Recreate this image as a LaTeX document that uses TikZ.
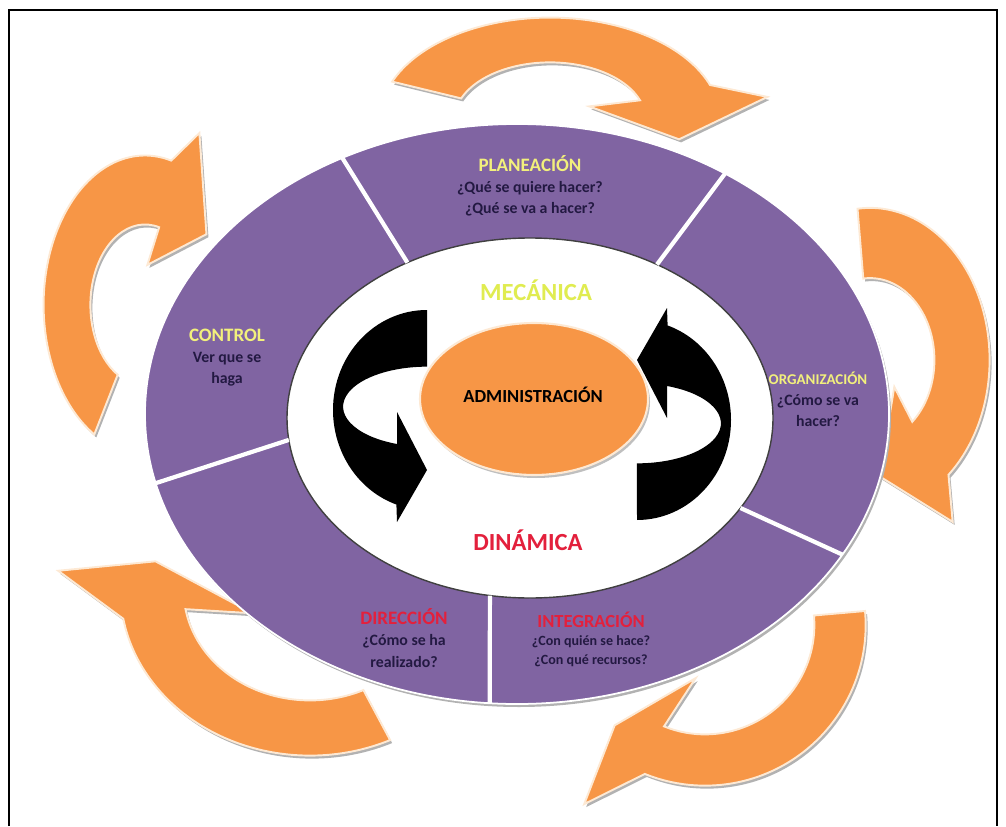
\documentclass[tikz,border=0pt]{standalone}
\usepackage{fontspec}
\setmainfont{Carlito}
\usetikzlibrary{calc}

\definecolor{ringpurple}{HTML}{8064A2}
\definecolor{arroworange}{HTML}{F79646}
\definecolor{arrowedge}{HTML}{FDE9D4}
\definecolor{darkink}{HTML}{231942}
\definecolor{headyellow}{HTML}{F2F07C}
\definecolor{headlime}{HTML}{E0EC50}
\definecolor{headred}{HTML}{E3203C}

% curved block arrow: #1 centre, #2/#3 radii, #4 tail angle, #5 head base angle,
% #6 tip angle, #7 half band width, #8 half head width, #9 head tilt
\newcommand{\roundarrow}[9]{%
  \pgfmathsetmacro\bandout{1+#7}\pgfmathsetmacro\bandin{1-#7}%
  \pgfmathsetmacro\headout{1+#8}\pgfmathsetmacro\headin{1-#8}%
  \pgfmathsetmacro\angout{#5-#9}\pgfmathsetmacro\angin{#5+#9}%
  \def\arrowoutline{(#4:\bandout) arc[start angle=#4, end angle=#5, radius=\bandout]
    -- (\angout:\headout) -- (#6:1) -- (\angin:\headin)
    -- (#5:\bandin) arc[start angle=#5, end angle=#4, radius=\bandin] -- cycle}%
  \begin{scope}[shift={(#1)}, shift={(2,-3)}, xscale=#2, yscale=#3]
    \fill[arrowshadow] \arrowoutline;
  \end{scope}
  \begin{scope}[shift={(#1)}, xscale=#2, yscale=#3]
    \filldraw[orangebody] \arrowoutline;
  \end{scope}}

\newcommand{\hd}[2]{\textcolor{#1}{\fontsize{10.8}{12}\selectfont #2}}

\begin{document}
\begin{tikzpicture}[x=0.2mm, y=0.2mm,
    seglabel/.style={font=\bfseries\fontsize{9}{12}\selectfont, align=center, text=darkink},
    biglabel/.style={font=\bfseries\fontsize{14}{16}\selectfont},
    divider/.style={white, line width=2.4pt},
    orangebody/.style={fill=arroworange, draw=arrowedge, line width=1.1pt},
    arrowshadow/.style={fill=black!30}]
  \useasboundingbox (0,0) rectangle (1006,826);
  % frame, open at the bottom
  \draw[line width=1.4pt] (9,0) -- (9,816) -- (997,816) -- (997,0);

  % orange arrows round the ring
  \roundarrow{550,706}{133}{80}{158}{20}{-14}{0.28}{0.66}{10}
  \roundarrow{870,466}{92}{117}{96}{-49}{-84}{0.3}{0.65}{8}
  \roundarrow{705,201}{135}{135}{5}{-112}{-132}{0.19}{0.6}{12}
  \roundarrow{310,236}{158}{138}{295}{190}{168}{0.2}{0.6}{15}
  \roundarrow{145,521}{78}{115}{240}{75}{38}{0.3}{0.65}{10}

  % purple ring and its five parts
  \coordinate (ring) at (517,412);
  \coordinate (hole) at (530,408);
  \fill[black!30] ($(ring)+(2,-3)$) ellipse[x radius=372, y radius=290];
  \filldraw[fill=ringpurple, draw=white, line width=1pt] (ring) ellipse[x radius=372, y radius=290];
  \filldraw[fill=white, draw=black!75, line width=0.8pt] (hole) ellipse[x radius=243, y radius=180];
  \foreach \a/\b in {118/120.3, 56/58.5, -29/-30, -94.2/-99.5, 193.8/187}
    \draw[divider] ($(hole)+(\b:243 and 180)$) -- ($(ring)+(\a:372 and 290)$);

  % centre
  \fill[black!25] (536,424) ellipse[x radius=114, y radius=76];
  \filldraw[fill=arroworange, draw=arrowedge, line width=1.2pt] (534,427) ellipse[x radius=114, y radius=76];

  % black turning arrows
  \fill (427,516) arc[start angle=90, end angle=251, x radius=94, y radius=100]
    -- (397,304) -- (427,356) -- (397,414) -- (397,382)
    arc[start angle=249, end angle=90, x radius=84, y radius=40] -- cycle;
  \begin{scope}[rotate around={180:(532,411)}]
    \fill (427,516) arc[start angle=90, end angle=251, x radius=94, y radius=100]
      -- (397,304) -- (427,356) -- (397,414) -- (397,382)
      arc[start angle=249, end angle=90, x radius=84, y radius=40] -- cycle;
  \end{scope}

  % labels
  \node[seglabel] (plan) at (530,640) {\hd{headyellow}{PLANEACIÓN}\\¿Qué se quiere hacer?\\¿Qué se va a hacer?};
  \node[seglabel] (ctrl) at (227,468) {\hd{headyellow}{CONTROL}\\Ver que se\\haga};
  \node[seglabel] (org) at (818,427) {\textcolor{headyellow}{\fontsize{8.5}{12}\selectfont ORGANIZACIÓN}\\¿Cómo se va\\hacer?};
  \node[seglabel] (dir) at (404,188) {\hd{headred}{DIRECCIÓN}\\¿Cómo se ha\\realizado?};
  \node[seglabel, font=\bfseries\fontsize{8}{10.5}\selectfont] (integ) at (591,187)
    {\textcolor{headred}{\fontsize{10.5}{10.5}\selectfont INTEGRACIÓN}\\¿Con quién se hace?\\¿Con qué recursos?};
  \node[biglabel, text=headlime] (mech) at (536,536) {MECÁNICA};
  \node[biglabel, text=headred] (dyn) at (528,286) {DINÁMICA};
  \node[font=\bfseries\fontsize{10.5}{12}\selectfont] (admin) at (533,431) {ADMINISTRACIÓN};
\end{tikzpicture}
\end{document}
